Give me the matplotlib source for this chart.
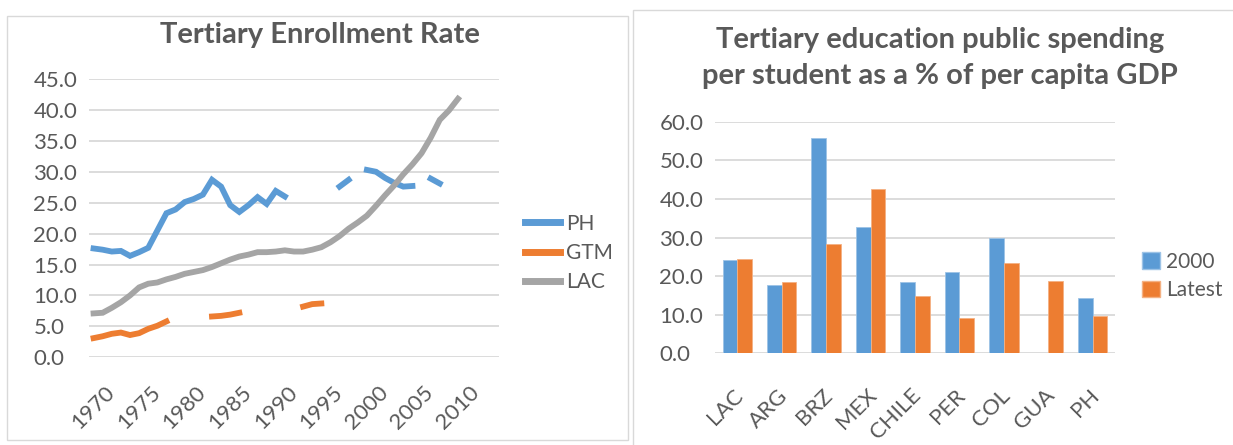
import numpy as np
import matplotlib
matplotlib.use("Agg")
import matplotlib.pyplot as plt
from matplotlib.patches import Rectangle, Patch
from matplotlib.lines import Line2D
import matplotlib.transforms as mtransforms

plt.rcParams['font.family'] = ['Lato', 'DejaVu Sans']

# enrollment rates, 1970-2010 (nan = no data that year)
years = list(range(1970, 2011))
nan = np.nan
ph = [17.6, 17.4, 17.1, 17.2, 16.4, 17.0, 17.7, 20.5, 23.3, 23.9,
      25.1, 25.6, 26.3, 28.7, 27.6, 24.6, 23.5, 24.6, 25.9, 24.8,
      26.9, 26.0, nan, nan, nan, nan, nan, 27.6, 28.7, nan,
      30.3, 30.0, 29.0, 28.2, 27.6, 27.7, nan, 28.9, 28.1, nan, nan]
gtm = [3.1, 3.4, 3.8, 4.0, 3.6, 3.9, 4.6, 5.1, 5.8, nan,
       nan, nan, nan, 6.6, 6.7, 6.9, 7.2, nan, nan, nan,
       nan, nan, nan, 8.2, 8.6, 8.7, nan, nan, nan, nan,
       nan, nan, nan, nan, nan, nan, nan, nan, nan, nan, nan]
lac = [7.1, 7.2, 8.0, 8.9, 10.0, 11.3, 11.9, 12.1, 12.6, 13.0,
       13.5, 13.8, 14.1, 14.6, 15.2, 15.8, 16.3, 16.6, 17.0, 17.0,
       17.1, 17.3, 17.1, 17.1, 17.4, 17.8, 18.6, 19.6, 20.8, 21.8,
       22.9, 24.5, 26.2, 27.8, 29.6, 31.2, 33.0, 35.5, 38.4, 39.9, 41.8]

# spending per student, % of per capita GDP
countries = ["LAC", "ARG", "BRZ", "MEX", "CHILE", "PER", "COL", "GUA", "PH"]
spend_2000 = [24.2, 17.7, 55.7, 32.6, 18.4, 21.1, 29.8, nan, 14.4]
spend_latest = [24.4, 18.6, 28.3, 42.5, 14.8, 9.1, 23.5, 18.8, 9.6]

BLUE = "#5B9BD5"
ORANGE = "#ED7D31"
GRAY = "#A5A5A5"
TXT = "#595959"
GRID = "#D9D9D9"
FS = 16
LEG_FS = 15
TITLE_FS = 21

W, H = 1233, 445
fig = plt.figure(figsize=(W / 100, H / 100), dpi=100)


def px_axes(x0, y0, x1, y1):
    # axes from pixel box (top-left origin)
    return fig.add_axes([x0 / W, 1 - y1 / H, (x1 - x0) / W, (y1 - y0) / H])


# panel frames
fig.patches.append(Rectangle((7 / W, 1 - 440 / H), 621 / W, 424 / H, transform=fig.transFigure,
                             fill=False, edgecolor="#D9D9D9", lw=1))
fig.patches.append(Rectangle((633 / W, -0.05), 0.6, 1 - 10 / H + 0.05, transform=fig.transFigure,
                             fill=False, edgecolor="#D9D9D9", lw=1))


def style(ax):
    for s in ax.spines.values():
        s.set_visible(False)
    ax.tick_params(length=0, colors=TXT, labelsize=FS)
    ax.grid(axis="y", color=GRID, lw=1.3)
    ax.set_axisbelow(True)
    ax.yaxis.set_major_formatter(matplotlib.ticker.FormatStrFormatter("%.1f"))
    ax.tick_params(axis="y", pad=40)
    for t in ax.get_yticklabels():
        t.set_horizontalalignment("left")


# left: enrollment rate lines
ax1 = px_axes(89, 79, 499, 357.3)
lw = 4.2
ax1.plot(years, ph, color=BLUE, lw=lw, solid_joinstyle="miter")
ax1.plot(years, gtm, color=ORANGE, lw=lw, solid_joinstyle="miter")
ax1.plot(years, lac, color=GRAY, lw=lw, solid_joinstyle="miter")
ax1.set_xlim(1969.5, 2014.5)
ax1.set_ylim(0, 45)
ax1.set_yticks(np.arange(0, 46, 5))
ax1.set_xticks(range(1970, 2011, 5))
style(ax1)
ax1.tick_params(axis="x", pad=18)
for t in ax1.get_xticklabels():
    t.set_rotation(45)
    t.set_horizontalalignment("center")
fig.text(320 / W, 1 - 35 / H, "Tertiary Enrollment Rate", ha="center", va="center",
         fontsize=TITLE_FS, fontweight="bold", color=TXT)

handles = [Line2D([], [], color=c, lw=5) for c in (BLUE, ORANGE, GRAY)]
fig.legend(handles, ["PH", "GTM", "LAC"], loc="center left",
           bbox_to_anchor=(525 / W, 1 - 253 / H), frameon=False, fontsize=LEG_FS,
           borderpad=0, borderaxespad=0,
           handlelength=1.7, handletextpad=0.25, labelspacing=0.45, labelcolor=TXT)

# right: spending bars
ax2 = px_axes(715, 121.7, 1115, 353.3)
x = np.arange(len(countries))
bw = 0.33
ax2.bar(x - bw / 2, spend_2000, bw, color=BLUE, edgecolor="#9DC3E6", lw=0.6)
ax2.bar(x + bw / 2, spend_latest, bw, color=ORANGE, edgecolor="#F4B183", lw=0.6)
ax2.set_xlim(-0.5, len(countries) - 0.5)
ax2.set_ylim(0, 60)
ax2.set_yticks(np.arange(0, 61, 10))
ax2.set_xticks(x)
ax2.set_xticklabels(countries)
style(ax2)
ax2.tick_params(axis="x", pad=23)
shift = mtransforms.ScaledTranslation(10 / 100, 0, fig.dpi_scale_trans)
for t in ax2.get_xticklabels():
    t.set_rotation(45)
    t.set_horizontalalignment("right")
    t.set_transform(t.get_transform() + shift)
fig.text(940 / W, 1 - 40 / H, "Tertiary education public spending", ha="center", va="center",
         fontsize=TITLE_FS, fontweight="bold", color=TXT)
fig.text(940 / W, 1 - 76 / H, "per student as a % of per capita GDP", ha="center", va="center",
         fontsize=TITLE_FS, fontweight="bold", color=TXT)

patches = [Patch(facecolor=BLUE, edgecolor="#9DC3E6"), Patch(facecolor=ORANGE, edgecolor="#F4B183")]
fig.legend(patches, ["2000", "Latest"], loc="center left",
           bbox_to_anchor=(1142 / W, 1 - 276 / H), frameon=False, fontsize=LEG_FS,
           borderpad=0, borderaxespad=0,
           handlelength=0.85, handleheight=0.85, handletextpad=0.3, labelspacing=0.4,
           labelcolor=TXT)

fig.savefig("out.png", dpi=100)
